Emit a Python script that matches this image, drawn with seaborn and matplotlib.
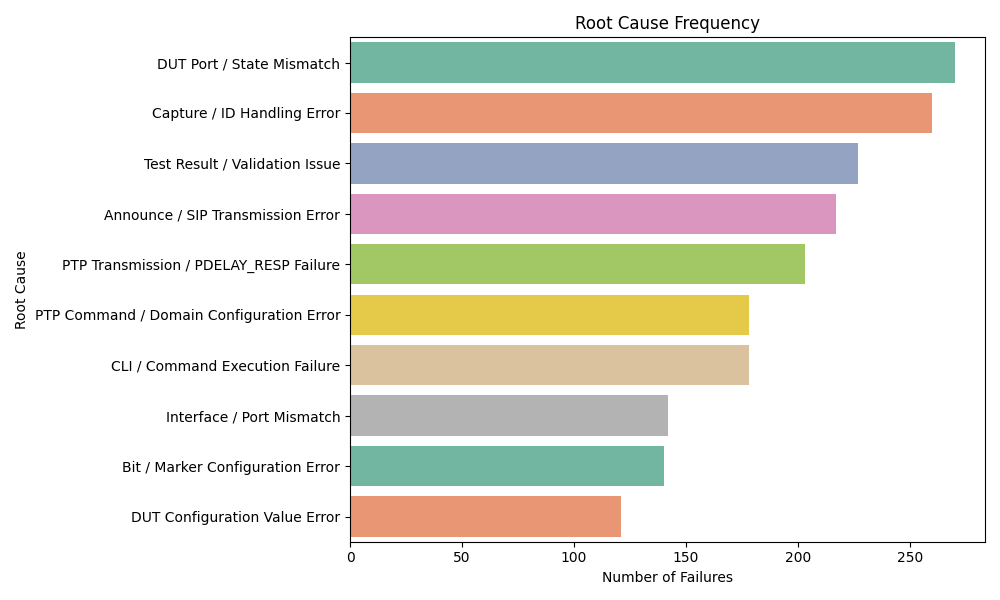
import matplotlib
matplotlib.use("Agg")
import matplotlib.pyplot as plt
import seaborn as sns
import pandas as pd

causes = [
    "DUT Port / State Mismatch",
    "Capture / ID Handling Error",
    "Test Result / Validation Issue",
    "Announce / SIP Transmission Error",
    "PTP Transmission / PDELAY_RESP Failure",
    "PTP Command / Domain Configuration Error",
    "CLI / Command Execution Failure",
    "Interface / Port Mismatch",
    "Bit / Marker Configuration Error",
    "DUT Configuration Value Error",
]
counts = [270, 260, 227, 217, 203, 178, 178, 142, 140, 121]

df = pd.DataFrame({"Root Cause": causes, "Number of Failures": counts})

plt.figure(figsize=(10, 6))
sns.barplot(data=df, x="Number of Failures", y="Root Cause", hue="Root Cause",
            palette="Set2", legend=False)
plt.title("Root Cause Frequency")
plt.xlabel("Number of Failures")
plt.ylabel("Root Cause")
plt.tight_layout()
plt.savefig("out.png", dpi=100)
